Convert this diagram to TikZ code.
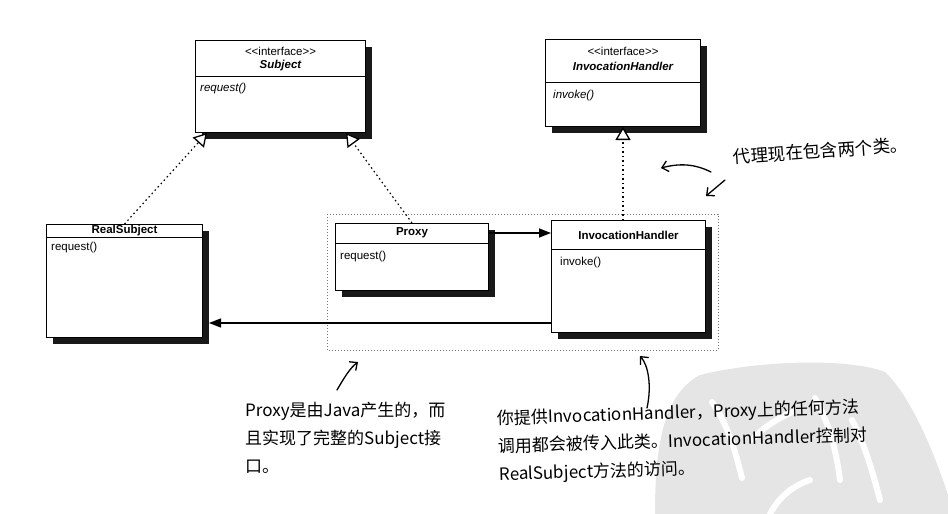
\documentclass[tikz,border=0pt]{standalone}
\usepackage{fontspec}
\setmainfont{Liberation Sans}
\newfontfamily\hand{Noto Sans CJK SC}
\usetikzlibrary{positioning,shadows,arrows.meta}

\tikzset{
  classbox/.style={draw, line width=1pt, fill=white, anchor=north west, inner sep=0pt,
    drop shadow={shadow xshift=6pt, shadow yshift=-6pt, fill=black, opacity=0.9}},
  uml/.style={font=\fontsize{11.5}{14}\selectfont, inner sep=0pt},
  ititle/.style={uml, font=\fontsize{11.5}{14}\selectfont\bfseries\itshape},
  ctitle/.style={uml, font=\fontsize{11.5}{14}\selectfont\bfseries},
  method/.style={uml, anchor=west},
  realize/.style={line width=1.2pt, dash pattern=on 1.5pt off 3pt,
    -{Triangle[fill=white, length=13pt, width=15pt, line width=1.3pt]}},
  navig/.style={line width=1.5pt, -{Triangle[length=12pt, width=9pt]}},
  boundary/.style={draw=black!55, line width=0.8pt, dash pattern=on 1pt off 2pt},
  note/.style={font=\hand\fontsize{17}{28}\selectfont, align=left, inner sep=0pt},
  hnote/.style={line width=1.3pt, line cap=round, -{Straight Barb[length=6pt, width=11pt]}},
  wmstroke/.style={white, line width=6pt, line cap=round}
}

\begin{document}
\begin{tikzpicture}[x=1pt,y=-1pt]
  \useasboundingbox (0,0) rectangle (948,514);
  % watermark
  \fill[black!10] (655,514) .. controls (655,450) and (662,395) .. (700,375)
    .. controls (760,360) and (850,358) .. (885,372)
    .. controls (915,400) and (940,470) .. (948,495) -- (948,514) -- cycle;
  \draw[wmstroke] (712,402) .. controls (728,425) and (735,450) .. (742,478);
  \draw[wmstroke] (752,440) .. controls (765,425) and (780,418) .. (792,412);
  \draw[wmstroke] (815,398) .. controls (830,425) and (836,450) .. (840,480);
  \draw[wmstroke] (852,420) .. controls (865,445) and (872,470) .. (880,500);
  \draw[wmstroke] (770,514) .. controls (780,495) and (795,485) .. (810,480);

  \draw[boundary] (327,214) rectangle (718,350);

  % classes
  \node[classbox, minimum width=170pt, minimum height=92pt] (subject) at (195,40) {};
  \node[classbox, minimum width=155pt, minimum height=87pt] (ihint) at (545,39) {};
  \node[classbox, minimum width=156pt, minimum height=113pt] (realsub) at (46,224) {};
  \node[classbox, minimum width=153pt, minimum height=67pt] (proxy) at (335,223) {};
  \node[classbox, minimum width=154pt, minimum height=112pt] (ihclass) at (551,220) {};

  \foreach \nm/\d in {subject/36, ihint/43, realsub/13, proxy/20, ihclass/29}
    \draw[line width=1pt] ([yshift=-\d pt]\nm.north west) -- ([yshift=-\d pt]\nm.north east);

  \node[uml] (subjst) at ([yshift=-11pt]subject.north) {<\kern0pt<interface>\kern0pt>};
  \node[ititle] (subjname) at ([yshift=-26pt]subject.north) {Subject};
  \node[method, font=\fontsize{11.5}{14}\selectfont\itshape] (subjreq) at ([shift={(5pt,-49pt)}]subject.north west) {request()};

  \node[uml] (ihst) at ([yshift=-12pt]ihint.north) {<\kern0pt<interface>\kern0pt>};
  \node[ititle] (ihname) at ([yshift=-27pt]ihint.north) {InvocationHandler};
  \node[method, font=\fontsize{11.5}{14}\selectfont\itshape] (ihinvoke) at ([shift={(8pt,-57pt)}]ihint.north west) {invoke()};

  \node[ctitle] (realname) at ([yshift=-6.5pt]realsub.north) {RealSubject};
  \node[method] (realreq) at ([shift={(5pt,-24pt)}]realsub.north west) {request()};

  \node[ctitle] (proxyname) at ([yshift=-10pt]proxy.north) {Proxy};
  \node[method] (proxyreq) at ([shift={(5pt,-34pt)}]proxy.north west) {request()};

  \node[ctitle] (ihcname) at ([yshift=-15pt]ihclass.north) {InvocationHandler};
  \node[method] (ihcinvoke) at ([shift={(9pt,-43pt)}]ihclass.north west) {invoke()};

  % relations
  \draw[realize] (realsub.north) -- ([xshift=12pt]subject.south west);
  \draw[realize] (proxy.north) -- ([xshift=-20pt]subject.south east);
  \draw[realize] (ihclass.north -| ihint.south) -- (ihint.south);
  \draw[navig] ([yshift=-10pt]proxy.north east) -- ([yshift=-10pt]proxy.north east -| ihclass.west);
  \coordinate (realend) at ([shift={(6pt,15pt)}]realsub.south east);
  \draw[navig, line width=1.3pt] (realend -| ihclass.west) -- (realend);

  % notes
  \node[note, font=\hand\fontsize{17.5}{28}\selectfont, anchor=west, rotate=4] (twoclass) at (733,157) {代理现在包含两个类。};
  \node[note, anchor=north west] (gennote) at (245,402)
    {Proxy是由Java产生的，而\\且实现了完整的Subject接\\口。};
  \node[note, anchor=north west, rotate=1.8] (handnote) at (497,410)
    {你提供InvocationHandler，Proxy上的任何方法\\调用都会被传入此类。InvocationHandler控制对\\RealSubject方法的访问。};

  \coordinate (t1) at (711,172); \coordinate (h1) at (661,168);
  \coordinate (t2) at (725,180); \coordinate (h2) at (706,196);
  \coordinate (t3) at (337,390); \coordinate (h3) at (358,362);
  \coordinate (t4) at (647,408); \coordinate (h4) at (640,356);
  \draw[hnote] (t1) .. controls (695,164) and (680,163) .. (h1);
  \draw[hnote] (t2) -- (h2);
  \draw[hnote] (t3) .. controls (344,378) and (350,368) .. (h3);
  \draw[hnote] (t4) .. controls (652,385) and (648,365) .. (h4);
\end{tikzpicture}
\end{document}
